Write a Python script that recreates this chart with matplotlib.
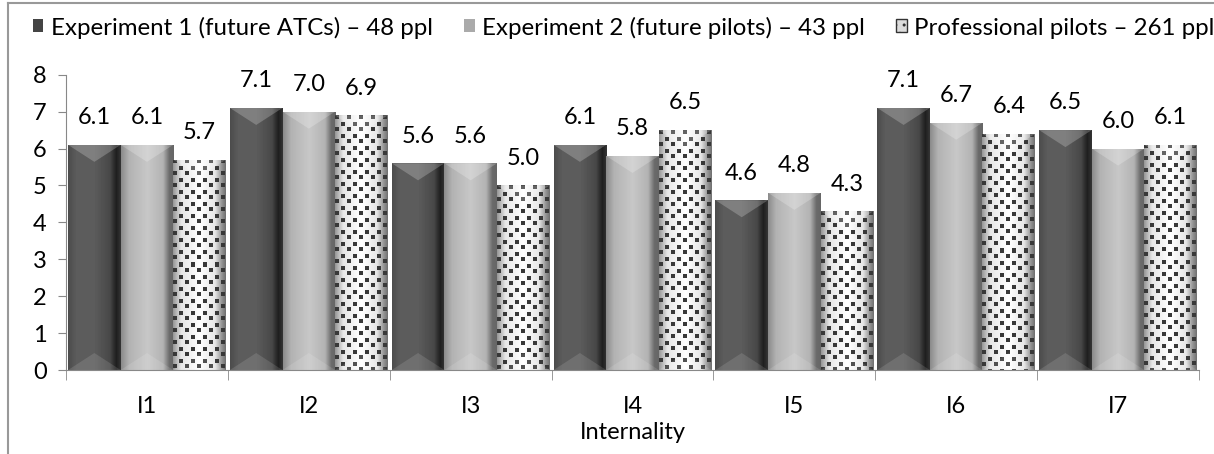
import numpy as np
import matplotlib
matplotlib.use('Agg')
import matplotlib.pyplot as plt
from matplotlib.patches import Polygon, Patch
from matplotlib.lines import Line2D

plt.rcParams['font.family'] = ['Lato', 'DejaVu Sans']

# data
categories = ['I1', 'I2', 'I3', 'I4', 'I5', 'I6', 'I7']
series_names = ['Experiment 1 (future ATCs) – 48 ppl',
                'Experiment 2 (future pilots) – 43 ppl',
                'Professional pilots – 261 ppl']
exp1 = [6.1, 7.1, 5.6, 6.1, 4.6, 7.1, 6.5]
exp2 = [6.1, 7.0, 5.6, 5.8, 4.8, 6.7, 6.0]
pros = [5.7, 6.9, 5.0, 6.5, 4.3, 6.4, 6.1]
x_label = 'Internality'

# horizontal shading profiles (position across bar, gray level)
profiles = [
    ([0, 0.15, 0.5, 0.8, 0.92, 1], [0.30, 0.36, 0.36, 0.28, 0.12, 0.20]),
    ([0, 0.15, 0.5, 0.8, 0.92, 1], [0.55, 0.70, 0.78, 0.70, 0.42, 0.40]),
    ([0, 0.15, 0.5, 0.8, 0.92, 1], [0.60, 0.90, 1.00, 0.90, 0.60, 0.45]),
]

fs = 17

fig = plt.figure(figsize=(12.14, 4.54), dpi=100)
ax = fig.add_axes([0.0544, 0.185, 0.9332, 0.6504])

x = np.arange(len(categories))
w = 0.325
ax.set_xlim(-0.5, len(categories) - 0.5)
ax.set_ylim(0, 8)

px_per_unit_y = ax.transData.transform((0, 1))[1] - ax.transData.transform((0, 0))[1]
px_per_unit_x = ax.transData.transform((1, 0))[0] - ax.transData.transform((0, 0))[0]
bevel = 17 / px_per_unit_y

for i, vals in enumerate([exp1, exp2, pros]):
    bars = ax.bar(x + (i - 1) * w, vals, w, color='none', edgecolor='none')
    stops, levels = profiles[i]
    for b, v in zip(bars, vals):
        x0 = b.get_x()
        bw = b.get_width()
        ncol = int(round(bw * px_per_unit_x))
        nrow = max(int(round(v * px_per_unit_y)), 1)
        prof = np.interp(np.linspace(0, 1, ncol), stops, levels)
        img = np.tile(prof, (nrow, 1))
        if i == 2:
            yy, xx = np.mgrid[0:nrow, 0:ncol]
            sq = (((xx % 12) < 4) & ((yy % 12) < 4)) | ((((xx + 6) % 12) < 4) & (((yy + 5) % 12) < 4))
            img = np.where(sq, 0.22, img)
        im = ax.imshow(img, cmap='gray', vmin=0, vmax=1, extent=(x0, x0 + bw, 0, v),
                       aspect='auto', interpolation='nearest', zorder=2)
        im.set_clip_path(b)
        # top chevron
        top = Polygon([(x0, v), (x0 + bw, v), (x0 + bw / 2, v - bevel)],
                      closed=True, facecolor='white', alpha=0.22, edgecolor='none', zorder=3)
        ax.add_patch(top)
        # bottom chevron
        bot = Polygon([(x0, 0), (x0 + bw, 0), (x0 + bw / 2, bevel)],
                      closed=True, facecolor='white', alpha=0.12, edgecolor='none', zorder=3)
        ax.add_patch(bot)
        ax.annotate(f'{v:.1f}', (x0 + bw / 2, v), xytext=(0, 12), textcoords='offset points',
                    ha='center', va='bottom', fontsize=fs)

ax.set_xticks(x)
ax.set_xticklabels(categories, fontsize=fs)
ax.set_xticks(np.arange(-0.5, len(categories)), minor=True)
ax.tick_params(axis='x', which='major', length=0, pad=19)
ax.tick_params(axis='x', which='minor', length=7, color='#888888')
ax.set_yticks(range(9))
ax.tick_params(axis='y', length=6, color='#888888', labelsize=fs, pad=8)
for s in ['top', 'right']:
    ax.spines[s].set_visible(False)
for s in ['left', 'bottom']:
    ax.spines[s].set_color('#888888')
    ax.spines[s].set_zorder(4)
ax.set_xlabel(x_label, fontsize=fs, labelpad=3)

handles = [Patch(facecolor=c, edgecolor='none') for c in ['#444444', '#aaaaaa', '#cccccc']]
handles[2] = Patch(facecolor='#dddddd', edgecolor='#333333', hatch='..')
fig.legend(handles, series_names, loc='upper left', bbox_to_anchor=(0.019, 0.985), ncol=3,
           frameon=False, fontsize=17.3, handlelength=0.45, handleheight=0.45,
           handletextpad=0.3, columnspacing=1.3, borderaxespad=0)

# chart frame
fig.add_artist(Line2D([0.0066, 0.0066], [0, 0.993], color='#999999', lw=1.5))
fig.add_artist(Line2D([0.0066, 1], [0.993, 0.993], color='#999999', lw=1.5))

fig.savefig('out.png', dpi=100)
